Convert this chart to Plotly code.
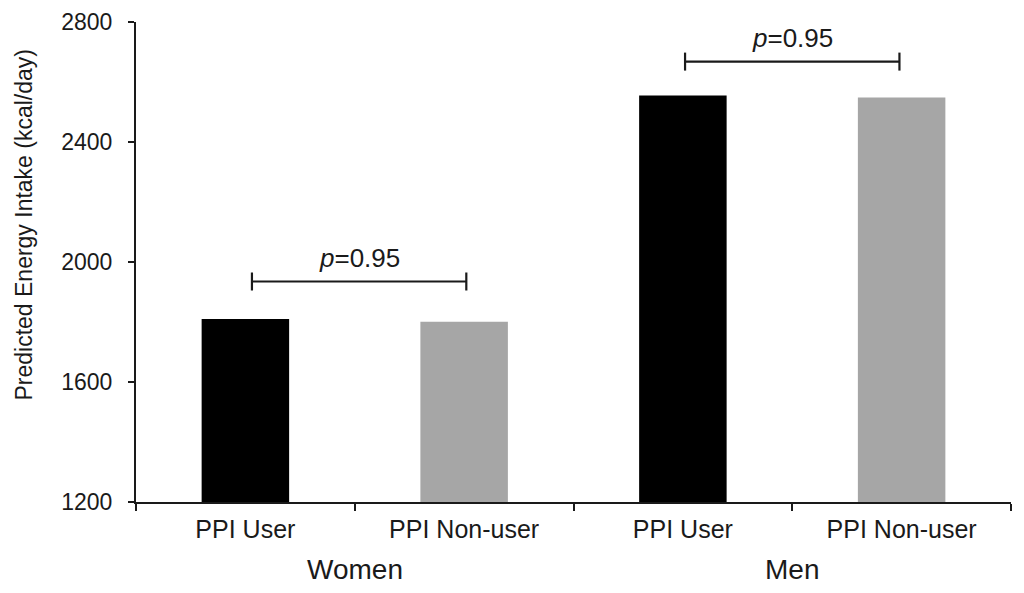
import plotly.graph_objects as go

# ---- data ----
categories = ["PPI User", "PPI Non-user", "PPI User", "PPI Non-user"]
groups = ["Women", "Men"]
values = [1810, 1801, 2555, 2548]
bar_colors = ["#000000", "#a6a6a6", "#000000", "#a6a6a6"]
y_ticks = [1200, 1600, 2000, 2400, 2800]
p_labels = ["=0.95", "=0.95"]
bracket_x = [[0.03, 1.01], [2.01, 2.99]]
bracket_y = [1935, 2668]
p_text_y = [2015, 2748]

x_pos = list(range(len(categories)))
font_family = "Liberation Sans, Arial, sans-serif"
ink = "#1a1a1a"

fig = go.Figure()
fig.add_trace(go.Bar(
    x=x_pos, y=values, width=0.4,
    marker=dict(color=bar_colors, line=dict(width=0)),
    showlegend=False, hoverinfo="skip",
))

cap = 30
for (x0, x1), yb in zip(bracket_x, bracket_y):
    fig.add_trace(go.Scatter(
        x=[x0, x0, None, x0, x1, None, x1, x1],
        y=[yb - cap, yb + cap, None, yb, yb, None, yb - cap, yb + cap],
        mode="lines", line=dict(color=ink, width=2.2),
        showlegend=False, hoverinfo="skip",
    ))

for (x0, x1), ty, lab in zip(bracket_x, p_text_y, p_labels):
    fig.add_annotation(
        x=(x0 + x1) / 2, y=ty, xref="x", yref="y",
        text="<i>p</i>" + lab, showarrow=False,
        font=dict(size=26, color=ink, family=font_family),
        xanchor="center", yanchor="middle",
    )

for gi, g in enumerate(groups):
    fig.add_annotation(
        x=2 * gi + 0.5, y=-0.14, xref="x", yref="paper",
        text=g, showarrow=False,
        font=dict(size=28, color=ink, family=font_family),
        xanchor="center", yanchor="middle",
    )

fig.add_annotation(
    x=-0.128, y=0.578, xref="paper", yref="paper",
    text="Predicted Energy Intake (kcal/day)", showarrow=False,
    textangle=-90,
    font=dict(size=23, color=ink, family=font_family),
    xanchor="center", yanchor="middle",
)

fig.update_layout(
    template="none",
    width=1016, height=585,
    margin=dict(l=128, r=13, t=14, b=91, autoexpand=False),
    paper_bgcolor="white", plot_bgcolor="white",
    font=dict(family=font_family, color=ink),
    xaxis=dict(
        automargin=False,
        range=[-0.5, 3.5], tickmode="array", tickvals=x_pos, ticktext=categories,
        ticks="", showline=True, linecolor=ink, linewidth=2,
        showgrid=False, zeroline=False,
        tickfont=dict(size=25, color=ink, family=font_family),
        ticklabelstandoff=4,
        minor=dict(tickmode="array", tickvals=[-0.5, 0.5, 1.5, 2.5, 3.5],
                   ticks="outside", ticklen=7, tickwidth=2, tickcolor=ink,
                   showgrid=False),
    ),
    yaxis=dict(
        automargin=False,
        range=[1200, 2800], tickmode="array", tickvals=y_ticks,
        ticks="outside", ticklen=6, tickwidth=2, tickcolor=ink,
        showline=True, linecolor=ink, linewidth=2,
        showgrid=False, zeroline=False,
        tickfont=dict(size=23, color=ink, family=font_family),
        ticklabelstandoff=11,
    ),
)

fig.write_html("out.html")
